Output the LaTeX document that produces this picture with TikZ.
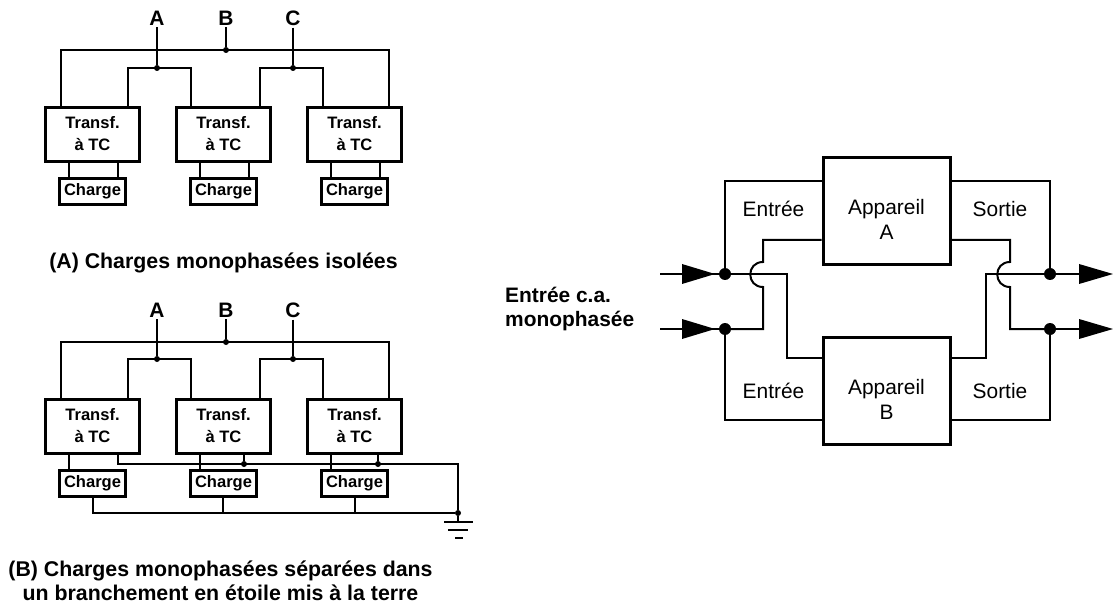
\documentclass[tikz,border=0pt]{standalone}
\usepackage{fontspec}
\setmainfont{Liberation Sans}
\tikzset{
  every picture/.style={x=1bp,y=-1bp},
  wire/.style={line width=2bp,line join=miter},
  xftext/.style={font=\fontsize{16.6}{22}\selectfont\bfseries,align=center,inner sep=0pt,yshift=1.3bp},
  xfbox/.style={draw,line width=3bp,minimum width=94bp,minimum height=54.5bp,inner sep=0pt},
  chbox/.style={draw,line width=3bp,minimum width=65.5bp,minimum height=26.5bp,inner sep=0pt,font=\fontsize{16.6}{20}\selectfont\bfseries},
  devtext/.style={font=\fontsize{21}{25}\selectfont,align=center,inner sep=0pt,yshift=-8bp},
  devbox/.style={draw,line width=3bp,minimum width=127bp,minimum height=107bp,inner sep=0pt},
  phase/.style={font=\fontsize{21}{24}\selectfont\bfseries,inner sep=0pt},
  captext/.style={font=\fontsize{21.4}{23.5}\selectfont\bfseries,inner sep=0pt,align=center},
  lab/.style={font=\fontsize{21}{24}\selectfont,inner sep=0pt},
  sdot/.style={circle,fill=black,inner sep=0pt,minimum size=6bp},
  bdot/.style={circle,fill=black,inner sep=0pt,minimum size=12bp},
  tip/.style={fill=black,draw=none},
}
\begin{document}
\begin{tikzpicture}
\useasboundingbox (0,0) rectangle (1113,602);
% ---- Panel A
\node[xfbox,label={[xftext]center:{Transf.\\à TC}}] (a1) at (92.5,134.5) {};
\node[xfbox,label={[xftext]center:{Transf.\\à TC}}] (a2) at (223.5,134.5) {};
\node[xfbox,label={[xftext]center:{Transf.\\à TC}}] (a3) at (354.5,134.5) {};
\node[chbox] (ac1) at (92.5,191.5) {Charge};
\node[chbox] (ac2) at (223.5,191.5) {Charge};
\node[chbox] (ac3) at (354.5,191.5) {Charge};
\node[phase] (aA) at (157,18) {A};
\node[phase] (aB) at (226,18) {B};
\node[phase] (aC) at (293,18) {C};
\node[sdot] (adA) at (157,68) {};
\node[sdot] (adB) at (226,50) {};
\node[sdot] (adC) at (293,68) {};
\draw[wire] (aA.south) ++(0,2) -- (adA);
\draw[wire] (aB.south) ++(0,2) -- (adB);
\draw[wire] (aC.south) ++(0,2) -- (adC);
\draw[wire] (a1.north -| 61,0) -- (61,50) -- (389,50) -- (a3.north -| 389,0);
\draw[wire] (a1.north -| 128,0) -- (128,68) -- (191,68) -- (a2.north -| 191,0);
\draw[wire] (a2.north -| 260,0) -- (260,68) -- (323,68) -- (a3.north -| 323,0);
\foreach \t/\b/\xa/\xb in {a1/ac1/69/118,a2/ac2/200/249,a3/ac3/331/380}{
  \draw[wire] (\t.south -| \xa,0) -- (\b.north -| \xa,0);
  \draw[wire] (\t.south -| \xb,0) -- (\b.north -| \xb,0);
}
\node[captext] (capA) at (223.5,263) {(A) Charges monophasées isolées};
% ---- Panel B
\node[xfbox,label={[xftext]center:{Transf.\\à TC}}] (b1) at (92.5,426.5) {};
\node[xfbox,label={[xftext]center:{Transf.\\à TC}}] (b2) at (223.5,426.5) {};
\node[xfbox,label={[xftext]center:{Transf.\\à TC}}] (b3) at (354.5,426.5) {};
\node[chbox] (bc1) at (92.5,483.5) {Charge};
\node[chbox] (bc2) at (223.5,483.5) {Charge};
\node[chbox] (bc3) at (354.5,483.5) {Charge};
\node[phase] (bA) at (157,310) {A};
\node[phase] (bB) at (226,310) {B};
\node[phase] (bC) at (293,310) {C};
\node[sdot] (bdA) at (157,359) {};
\node[sdot] (bdB) at (226,342) {};
\node[sdot] (bdC) at (293,359) {};
\draw[wire] (bA.south) ++(0,2) -- (bdA);
\draw[wire] (bB.south) ++(0,2) -- (bdB);
\draw[wire] (bC.south) ++(0,2) -- (bdC);
\draw[wire] (b1.north -| 61,0) -- (61,342) -- (389,342) -- (b3.north -| 389,0);
\draw[wire] (b1.north -| 128,0) -- (128,359) -- (191,359) -- (b2.north -| 191,0);
\draw[wire] (b2.north -| 260,0) -- (260,359) -- (323,359) -- (b3.north -| 323,0);
\foreach \t/\b/\xa in {b1/bc1/69,b2/bc2/200,b3/bc3/331}{
  \draw[wire] (\t.south -| \xa,0) -- (\b.north -| \xa,0);
}
\node[sdot] (bs2) at (244,464) {};
\node[sdot] (bs3) at (378,464) {};
\node[sdot] (gnd) at (458,513) {};
\draw[wire] (b1.south -| 118,0) -- (118,464) -- (458,464) -- (gnd);
\draw[wire] (b2.south -| 244,0) -- (bs2);
\draw[wire] (b3.south -| 378,0) -- (bs3);
\draw[wire] (bc1.south -| 93,0) -- (93,513) -- (gnd);
\draw[wire] (bc2.south -| 223,0) -- (223,513);
\draw[wire] (bc3.south -| 355,0) -- (355,513);
\coordinate (g0) at (458,521.5);
\draw[wire] (gnd) -- (g0);
\draw[wire] (444,521.5) -- (g0) -- (473,521.5);
\draw[wire] (448,530) -- (468,530);
\draw[wire] (455,537.5) -- (463,537.5);
\node[captext] (capB) at (220.5,580.7) {(B) Charges monophasées séparées dans\\un branchement en étoile mis à la terre};
% ---- Right part
\node[devbox,label={[devtext]center:{Appareil\\A}}] (dA) at (886.5,211) {};
\node[devbox,label={[devtext]center:{Appareil\\B}}] (dB) at (886.5,391) {};
\node[lab] (e1) at (773.5,209) {Entrée};
\node[lab] (s1) at (1000,209) {Sortie};
\node[lab] (e2) at (773.5,391) {Entrée};
\node[lab] (s2) at (1000,391) {Sortie};
\node[font=\fontsize{21}{25}\selectfont\bfseries,inner sep=0pt,align=left,anchor=west] (inlab) at (505,309) {Entrée c.a.\\monophasée};
\node[bdot] (n1) at (725,274) {};
\node[bdot] (n2) at (725,329) {};
\node[bdot] (n3) at (1050,274) {};
\node[bdot] (n4) at (1050,329) {};
\coordinate (i1) at (660,274);
\coordinate (i2) at (660,329);
\draw[wire] (i1) -- (n1);
\draw[wire] (i2) -- (n2);
\draw[wire] (n3) -- (1085,274);
\draw[wire] (n4) -- (1085,329);
\fill[tip] (682,264) -- (715,274) -- (682,284) -- cycle;
\fill[tip] (682,319) -- (715,329) -- (682,339) -- cycle;
\fill[tip] (1079,264) -- (1113,274) -- (1079,284) -- cycle;
\fill[tip] (1079,319) -- (1113,329) -- (1079,339) -- cycle;
\draw[wire] (n1) -- (725,181) -- (dA.west |- 0,181);
\draw[wire] (n2) -- (725,420) -- (dB.west |- 0,420);
\draw[wire] (n3) -- (1050,181) -- (dA.east |- 0,181);
\draw[wire] (n4) -- (1050,420) -- (dB.east |- 0,420);
% crossings
\draw[wire] (n1) -- (787,274) -- (787,358) -- (dB.west |- 0,358);
\draw[wire] (n2) -- (763,329) -- (763,287) .. controls (746,287) and (746,262) .. (763,262) -- (763,240) -- (dA.west |- 0,240);
\draw[wire] (n3) -- (986,274) -- (986,358) -- (dB.east |- 0,358);
\draw[wire] (n4) -- (1010,329) -- (1010,287) .. controls (993,287) and (993,262) .. (1010,262) -- (1010,240) -- (dA.east |- 0,240);
\end{tikzpicture}
\end{document}
